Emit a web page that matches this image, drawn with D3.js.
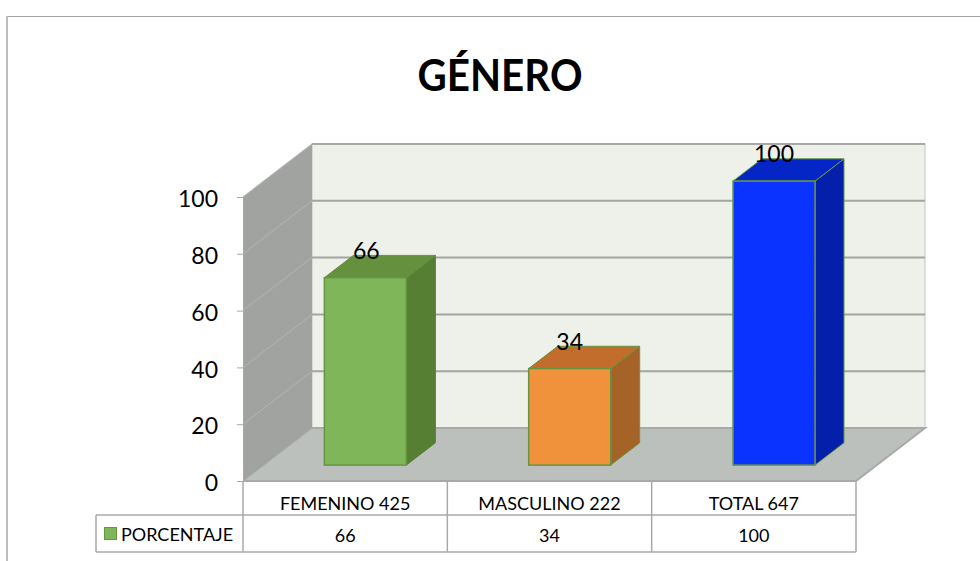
<!DOCTYPE html>
<html>
<head>
<meta charset="utf-8">
<script src="https://cdn.jsdelivr.net/npm/d3@7"></script>
<style>
  html, body { margin: 0; padding: 0; background: #fff; }
  svg { display: block; }
  text { font-family: Lato, "Open Sans", sans-serif; fill: #000; }
</style>
</head>
<body>
<svg width="980" height="561"></svg>
<script>
const title = 'GÉNERO';
const seriesName = 'PORCENTAJE';
const categories = ['FEMENINO 425', 'MASCULINO 222', 'TOTAL 647'];
const values = [66, 34, 100];
const yTicks = [0, 20, 40, 60, 80, 100];
const frontFills = ['#7fb65a', '#f0913b', '#0b33ff'];
const sideFills = ['#567f34', '#a56327', '#0420ab'];
const topFills = ['#65913f', '#c26d2c', '#0426c6'];
const edgeColor = '#66953f';

const svg = d3.select('svg');

// 3d box: front plane of the axis and how far back the walls go
const x0 = 243, x1 = 856;
const depthX = 69, depthY = -53;
const barWidth = 82, barDepth = 0.42, barOffset = 0.3;

const x = d3.scaleBand().domain(categories).range([x0, x1]);
const y = d3.scaleLinear().domain([0, 100]).range([481, 197]);

const poly = pts => pts.map(p => p.join(',')).join(' ');

// chart frame, only top and left show in the crop
svg.append('line')
  .attr('x1', 6).attr('x2', 980).attr('y1', 16.5).attr('y2', 16.5)
  .attr('stroke', '#a3a3a3');
svg.append('line')
  .attr('x1', 7).attr('x2', 7).attr('y1', 16).attr('y2', 561)
  .attr('stroke', '#bdbdbd')
  .attr('stroke-width', 2);

svg.append('text')
  .attr('x', 500)
  .attr('y', 91)
  .attr('text-anchor', 'middle')
  .attr('font-size', 43)
  .attr('font-weight', 700)
  .attr('textLength', 165)
  .attr('lengthAdjust', 'spacingAndGlyphs')
  .text(title);

// back wall
svg.append('rect')
  .attr('x', x0 + depthX)
  .attr('y', y(100) + depthY)
  .attr('width', x1 - x0)
  .attr('height', y(0) - y(100))
  .attr('fill', '#eef1ea')
  .attr('stroke', '#c4c4c4');
svg.append('line')
  .attr('x1', x0 + depthX)
  .attr('x2', x1 + depthX)
  .attr('y1', y(100) + depthY)
  .attr('y2', y(100) + depthY)
  .attr('stroke', '#a9aaa8')
  .attr('stroke-width', 2);

// left wall
svg.append('polygon')
  .attr('points', poly([
    [x0, y(0)], [x0, y(100)],
    [x0 + depthX, y(100) + depthY], [x0 + depthX, y(0) + depthY]
  ]))
  .attr('fill', '#a0a3a0');

// floor
svg.append('polygon')
  .attr('points', poly([
    [x0, y(0)], [x1, y(0)],
    [x1 + depthX, y(0) + depthY], [x0 + depthX, y(0) + depthY]
  ]))
  .attr('fill', '#bcc0bc');

// gridlines run along the left wall and the back wall
const grid = svg.append('g').selectAll('g').data(yTicks).enter().append('g');
grid.append('path')
  .attr('d', d => `M${x0},${y(d)}L${x0 + depthX},${y(d) + depthY}`)
  .attr('fill', 'none')
  .attr('stroke', d => d === 0 ? '#a0a0a0' : '#b0b2b0')
  .attr('stroke-opacity', 0.8)
  .attr('stroke-width', 1.2);
grid.filter(d => d > 0 && d < 100).append('line')
  .attr('x1', x0 + depthX)
  .attr('x2', x1 + depthX)
  .attr('y1', d => y(d) + depthY)
  .attr('y2', d => y(d) + depthY)
  .attr('stroke', '#a3a5a1')
  .attr('stroke-width', 2);

// floor edges
svg.append('path')
  .attr('d', `M${x0},${y(0)}H${x1}L${x1 + depthX},${y(0) + depthY}H${x0 + depthX}`)
  .attr('fill', 'none')
  .attr('stroke', '#a8aaa8')
  .attr('stroke-width', 2);

// value axis
const yAxis = svg.append('g')
  .attr('transform', `translate(${x0},0)`)
  .call(d3.axisLeft(y).tickValues(yTicks).tickSize(6).tickPadding(19));
yAxis.select('.domain').attr('stroke', '#a8a8a8');
yAxis.selectAll('.tick line').attr('stroke', '#a8a8a8');
yAxis.selectAll('.tick text')
  .attr('font-size', 23)
  .attr('font-family', 'Lato, sans-serif')
  .attr('dy', '0.42em')
  .attr('fill', '#000');

// bars
const bars = svg.append('g').selectAll('g').data(values).enter().append('g');
const bx = (d, i) => x(categories[i]) + x.bandwidth() / 2 - barWidth / 2 + depthX * barOffset - 0.5;
const by = d => y(d) + depthY * barOffset;
const by0 = y(0) + depthY * barOffset;
const sx = depthX * barDepth, sy = depthY * barDepth;

bars.append('polygon')
  .attr('points', (d, i) => poly([
    [bx(d, i) + barWidth, by0], [bx(d, i) + barWidth, by(d)],
    [bx(d, i) + barWidth + sx, by(d) + sy], [bx(d, i) + barWidth + sx, by0 + sy]
  ]))
  .attr('fill', (d, i) => sideFills[i])
  .attr('stroke', (d, i) => i === 0 ? sideFills[0] : edgeColor);
bars.append('polygon')
  .attr('points', (d, i) => poly([
    [bx(d, i), by(d)], [bx(d, i) + barWidth, by(d)],
    [bx(d, i) + barWidth + sx, by(d) + sy], [bx(d, i) + sx, by(d) + sy]
  ]))
  .attr('fill', (d, i) => topFills[i])
  .attr('stroke', (d, i) => i === 0 ? topFills[0] : edgeColor);
bars.append('rect')
  .attr('x', bx)
  .attr('y', by)
  .attr('width', barWidth)
  .attr('height', d => by0 - by(d))
  .attr('fill', (d, i) => frontFills[i])
  .attr('stroke', edgeColor)
  .attr('stroke-width', 1.5);

// value labels sit on the top face
bars.append('text')
  .attr('x', (d, i) => bx(d, i) + barWidth / 2)
  .attr('y', d => by(d) + sy)
  .attr('dx', (d, i) => [1, 0, 0][i])
  .attr('dy', 3.5)
  .attr('text-anchor', 'middle')
  .attr('font-size', 23)
  .text(d => d);

// data table under the chart
const rowY = [481, 515, 552];
const table = svg.append('g').attr('stroke', '#a9a9a9').attr('stroke-width', 1.5).attr('fill', 'none');
table.append('path').attr('d', `M96,${rowY[1]}H${x1}M96,${rowY[2]}H${x1}M96,${rowY[1]}V${rowY[2]}`);
table.selectAll('line').data(d3.range(categories.length + 1)).enter().append('line')
  .attr('x1', i => x0 + i * x.step())
  .attr('x2', i => x0 + i * x.step())
  .attr('y1', rowY[0])
  .attr('y2', rowY[2]);

svg.append('g').selectAll('text').data(categories).enter().append('text')
  .attr('x', d => x(d) + x.bandwidth() / 2)
  .attr('y', 510)
  .attr('text-anchor', 'middle')
  .attr('font-size', 18)
  .text(d => d);

svg.append('g').selectAll('text').data(values).enter().append('text')
  .attr('x', (d, i) => x(categories[i]) + x.bandwidth() / 2)
  .attr('y', 542)
  .attr('text-anchor', 'middle')
  .attr('font-size', 18)
  .text(d => d);

// legend key in the table
svg.append('rect')
  .attr('x', 104.5)
  .attr('y', 527.5)
  .attr('width', 12)
  .attr('height', 12)
  .attr('fill', frontFills[0])
  .attr('stroke', edgeColor);
svg.append('text')
  .attr('x', 121)
  .attr('y', 541)
  .attr('font-size', 18)
  .text(seriesName);
</script>
</body>
</html>
